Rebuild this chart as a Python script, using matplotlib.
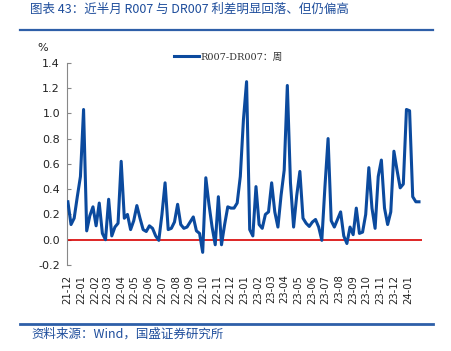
import matplotlib
matplotlib.use("Agg")
import matplotlib.pyplot as plt
import matplotlib.dates as mdates
from matplotlib.lines import Line2D
import pandas as pd

plt.rcParams['font.family'] = ['DejaVu Sans', 'Noto Sans CJK SC']

title = "图表 43：近半月 R007 与 DR007 利差明显回落、但仍偏高"
source = "资料来源：Wind，国盛证券研究所"
series_name = "R007-DR007：周"
unit = "%"

start_date = "2021-12-03"
n_weeks = 113
values = [
    0.30, 0.12, 0.17, 0.34, 0.50, 1.03, 0.07, 0.19, 0.26, 0.11,
    0.29, 0.05, 0.00, 0.32, 0.03, 0.10, 0.13, 0.62, 0.17, 0.20,
    0.08, 0.15, 0.27, 0.17, 0.08, 0.065, 0.11, 0.09, 0.03, -0.005,
    0.20, 0.45, 0.08, 0.09, 0.14, 0.28, 0.12, 0.09, 0.10, 0.14,
    0.18, 0.07, 0.05, -0.10, 0.49, 0.28, 0.10, -0.04, 0.34, -0.04,
    0.12, 0.26, 0.25, 0.25, 0.29, 0.50, 0.95, 1.25, 0.08, 0.03,
    0.42, 0.12, 0.09, 0.20, 0.22, 0.45, 0.22, 0.10, 0.35, 0.55,
    1.22, 0.45, 0.10, 0.35, 0.54, 0.17, 0.13, 0.105, 0.14, 0.16,
    0.10, -0.005, 0.42, 0.80, 0.15, 0.10, 0.16, 0.22, 0.03, -0.03,
    0.10, 0.04, 0.25, 0.05, 0.06, 0.20, 0.57, 0.25, 0.09, 0.50,
    0.63, 0.25, 0.12, 0.22, 0.70, 0.55, 0.41, 0.44, 1.03, 1.02,
    0.34, 0.30, 0.30,
]
dates = pd.date_range(start_date, periods=n_weeks, freq="7D")

yticks = [-0.2, 0.0, 0.2, 0.4, 0.6, 0.8, 1.0, 1.2, 1.4]
xlim = ("2021-12-01", "2024-01-31 20:00")

blue = "#0B4A9E"
frame_blue = "#2E5FA8"

fig = plt.figure(figsize=(4.52, 3.51), dpi=100)
ax = fig.add_axes([67/452, 1-265/351, (421.6-67)/452, (265-62.7)/351])

ax.plot(dates, values, color=blue, lw=2.2, solid_joinstyle='round', zorder=3)
ax.axhline(0, color="#D80000", lw=1.2, zorder=2)

ax.set_ylim(-0.2, 1.4)
ax.set_yticks(yticks)
ax.set_yticklabels([f"{v:.1f}" for v in yticks], fontsize=8, color="#222222")
ax.set_xlim(pd.Timestamp(xlim[0]), pd.Timestamp(xlim[1]))
ax.xaxis.set_major_locator(mdates.MonthLocator())
ax.xaxis.set_major_formatter(mdates.DateFormatter("%y-%m"))
ax.tick_params(axis='x', length=0, pad=7, labelsize=7.2, rotation=90, colors="#222222")
ax.tick_params(axis='y', direction='in', length=3, width=0.8, color="#888888", pad=5)
for s in ['top', 'right', 'bottom']:
    ax.spines[s].set_visible(False)
ax.spines['left'].set_color("#888888")
ax.spines['left'].set_linewidth(0.8)

fig.text(43/452, 1-48/351, unit, fontsize=8, ha='center', va='center', color="#222222")

handle = Line2D([], [], color=blue, lw=2.2)
fig.legend([handle], [series_name], loc='center left',
           bbox_to_anchor=(174/452, 1-57/351), frameon=False, borderpad=0,
           borderaxespad=0, handlelength=2.6, handletextpad=0.15,
           labelcolor="#333333",
           prop={'family': ['DejaVu Serif', 'Noto Sans CJK SC'], 'size': 7})

fig.text(30/452, 1-9/351, title, fontsize=9, ha='left', va='center',
         color="#1F4E9C", family=['Noto Sans CJK SC', 'DejaVu Sans'], style='italic')
fig.add_artist(Line2D([20/452, 433/452], [1-30/351, 1-30/351], color=frame_blue, lw=1.6))
fig.add_artist(Line2D([20/452, 433/452], [1-324/351, 1-324/351], color=frame_blue, lw=2.0))
fig.text(31/452, 1-334/351, source, fontsize=9, ha='left', va='center',
         color="#1F4E9C", family=['Noto Sans CJK SC', 'DejaVu Sans'], style='italic')

fig.savefig("out.png", dpi=100)
